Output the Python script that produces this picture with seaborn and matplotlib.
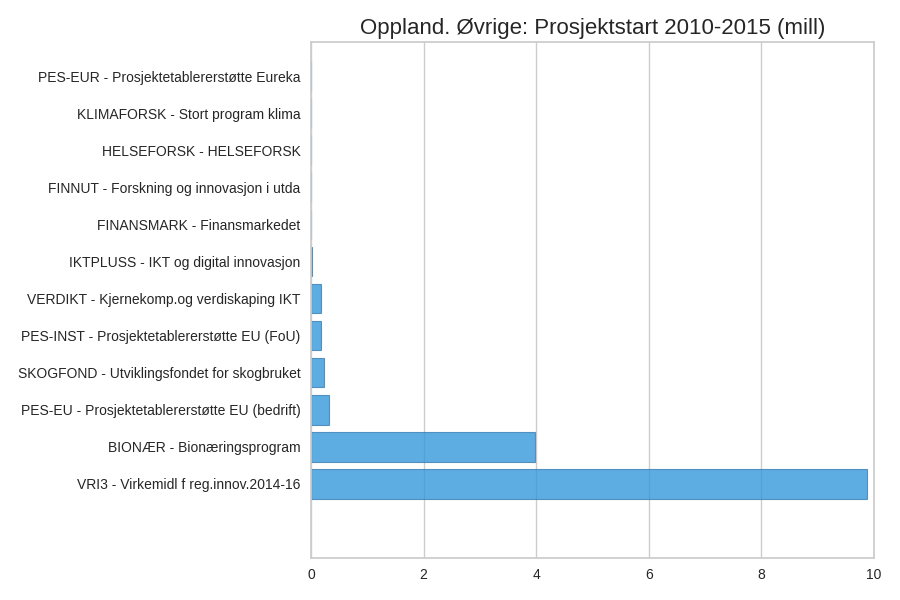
import matplotlib
matplotlib.use("Agg")
import matplotlib.pyplot as plt
import seaborn as sns

# Data (top to bottom as shown)
labels = [
    "PES-EUR - Prosjektetablererstøtte Eureka",
    "KLIMAFORSK - Stort program klima",
    "HELSEFORSK - HELSEFORSK",
    "FINNUT - Forskning og innovasjon i utda",
    "FINANSMARK - Finansmarkedet",
    "IKTPLUSS - IKT og digital innovasjon",
    "VERDIKT - Kjernekomp.og verdiskaping IKT",
    "PES-INST - Prosjektetablererstøtte EU (FoU)",
    "SKOGFOND - Utviklingsfondet for skogbruket",
    "PES-EU - Prosjektetablererstøtte EU (bedrift)",
    "BIONÆR - Bionæringsprogram",
    "VRI3 - Virkemidl f reg.innov.2014-16",
]
values = [0.0, 0.0, 0.0, 0.0, 0.0, 0.02, 0.17, 0.17, 0.23, 0.32, 3.98, 9.87]

sns.set_theme(style="whitegrid")
plt.rcParams['font.family'] = ['Liberation Sans', 'DejaVu Sans']

fig, ax = plt.subplots(figsize=(9, 6), dpi=100)
fig.subplots_adjust(left=0.3456, right=0.971, top=0.93, bottom=0.07)

sns.barplot(x=values, y=labels, ax=ax, color="#3498db", saturation=1,
            alpha=0.8, edgecolor="#3c7fb3", linewidth=0.8, orient="h")

ax.set_xlim(0, 10)
ax.set_ylim(13, -0.92)
ax.set_xticks([0, 2, 4, 6, 8, 10])
ax.tick_params(axis='y', labelsize=10, colors="#262626", length=0, pad=7.5)
ax.tick_params(axis='x', labelsize=10, colors="#262626", length=0, pad=7.5)
ax.set_title("Oppland. Øvrige: Prosjektstart 2010-2015 (mill)", fontsize=16)
ax.set_xlabel("")
ax.set_ylabel("")

plt.savefig("out.png", dpi=100)
